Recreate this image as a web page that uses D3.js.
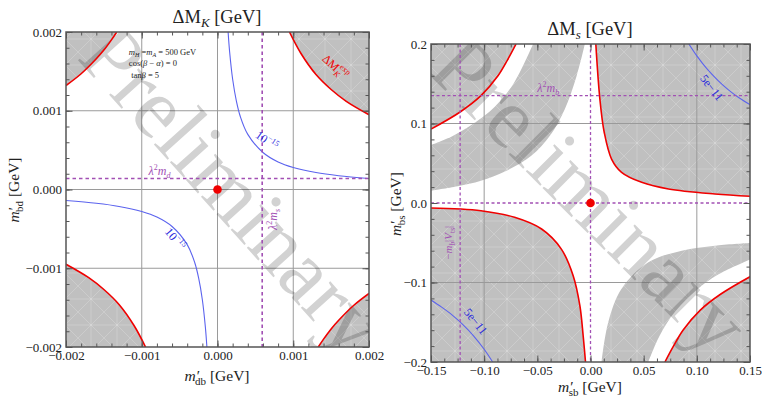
<!DOCTYPE html>
<html>
<head>
<meta charset="utf-8">
<script src="https://cdn.jsdelivr.net/npm/d3@7"></script>
<style>
  body { margin: 0; background: #fff; }
  text { font-family: "Liberation Serif", "Times New Roman", serif; }
</style>
</head>
<body>
<svg id="chart" width="762" height="397"></svg>
<script>
// ---- left panel (Delta M_K) ----
const kTicks = [-0.002, -0.001, 0, 0.001, 0.002]
const kTickLabels = ['−0.002', '−0.001', '0.000', '0.001', '0.002']
const kGrid = [-0.001, 0, 0.001]
const kRedTL = [[-0.002, 0.00132], [-0.0018, 0.00147], [-0.0016, 0.00166], [-0.0015, 0.00177], [-0.0014, 0.0019], [-0.00133, 0.002]]
const kRedTR = [[0.00095, 0.002], [0.0011, 0.00173], [0.0013, 0.00146], [0.0015, 0.00127], [0.0017, 0.00112], [0.002, 0.00095]]
const kRedBL = [[-0.002, -0.00095], [-0.0017, -0.00112], [-0.0015, -0.00127], [-0.0013, -0.00146], [-0.0011, -0.00173], [-0.00095, -0.002]]
const kRedBR = [[0.00133, -0.002], [0.0014, -0.0019], [0.0015, -0.00177], [0.0016, -0.00166], [0.0018, -0.00147], [0.002, -0.00132]]
const kBlueTR = [[0.00014, 0.002], [0.00016, 0.00175], [0.0002, 0.0014], [0.00025, 0.00112], [0.0003, 0.00093], [0.0004, 0.0007],
  [0.0006, 0.00047], [0.0008, 0.00035], [0.001, 0.00028], [0.0013, 0.000215], [0.0016, 0.000175], [0.002, 0.00014]]
const kBlueBL = [[-0.002, -0.00014], [-0.0016, -0.000175], [-0.0013, -0.000215], [-0.001, -0.00028], [-0.0008, -0.00035], [-0.0006, -0.00047],
  [-0.0004, -0.0007], [-0.0003, -0.00093], [-0.00025, -0.00112], [-0.0002, -0.0014], [-0.00016, -0.00175], [-0.00014, -0.002]]
const kLambdaMd = 0.00014  // horizontal line
const kLambdaMs = 0.00059  // vertical line

// ---- right panel (Delta M_s) ----
const sXTicks = [-0.15, -0.1, -0.05, 0, 0.05, 0.1, 0.15]
const sXTickLabels = ['−0.15', '−0.10', '−0.05', '0.00', '0.05', '0.10', '0.15']
const sYTicks = [-0.2, -0.1, 0, 0.1, 0.2]
const sYTickLabels = ['−0.2', '−0.1', '0.0', '0.1', '0.2']
const sGrid = [-0.1, 0.1]
const sRedTL = [[-0.15, 0.093], [-0.1226, 0.1145], [-0.103, 0.135], [-0.087, 0.16], [-0.078, 0.18], [-0.07, 0.2]]
const sRedBR = [[0.07, -0.2], [0.078, -0.18], [0.087, -0.16], [0.103, -0.135], [0.1226, -0.1145], [0.151, -0.092]]
const sRedTR = [[0.005, 0.2], [0.0088, 0.131], [0.0129, 0.089], [0.0198, 0.0553], [0.0292, 0.0386], [0.0481, 0.026],
  [0.0733, 0.0176], [0.117, 0.0113], [0.151, 0.0084]]
const sRedBL = [[-0.15, -0.0063], [-0.103, -0.0097], [-0.0714, -0.018], [-0.046, -0.0327], [-0.0274, -0.058], [-0.0163, -0.0914],
  [-0.01, -0.129], [-0.0069, -0.167], [-0.0047, -0.2]]
const sBandOuterTL = [[-0.15, 0.073], [-0.13, 0.084], [-0.11, 0.1], [-0.09, 0.121], [-0.072, 0.151], [-0.054, 0.2]]
const sBandInnerTL = [[-0.15, 0.0154], [-0.125, 0.021], [-0.103, 0.028], [-0.08, 0.04], [-0.0557, 0.0595], [-0.038, 0.085],
  [-0.0242, 0.118], [-0.013, 0.16], [-0.0053, 0.2]]
const sBandInnerBR = [[0.0104, -0.2], [0.0167, -0.15], [0.0292, -0.108], [0.0544, -0.0746], [0.0858, -0.06], [0.117, -0.0537], [0.151, -0.0503]]
const sBandOuterBR = [[0.0544, -0.2], [0.065, -0.167], [0.08, -0.136], [0.1, -0.109], [0.12, -0.09], [0.151, -0.0704]]
const sBlueTR = [[0.0925, 0.2], [0.1, 0.185], [0.11, 0.168], [0.12, 0.154], [0.13, 0.142], [0.14, 0.132], [0.151, 0.123]]
const sBlueBL = [[-0.15, -0.122], [-0.14, -0.131], [-0.13, -0.141], [-0.12, -0.153], [-0.11, -0.167], [-0.1, -0.184], [-0.092, -0.2]]
const sLambdaMb = 0.135     // horizontal line
const sMbVts = -0.1226      // vertical line

const RED = '#f00000'
const BLUE = '#5b63ee'
const PURPLE = '#a250b4'
const FRAME = '#555'
const SERIF = '"Liberation Serif", "Times New Roman", serif'

const svg = d3.select('#chart')

const defs = svg.append('defs')
const pat = defs.append('pattern')
  .attr('id', 'mesh')
  .attr('width', 26).attr('height', 26)
  .attr('patternUnits', 'userSpaceOnUse')
pat.append('rect').attr('width', 26).attr('height', 26).attr('fill', '#c0c0c0')
;[[0, 0, 26, 26], [26, 0, 0, 26], [13, 0, 13, 26], [0, 13, 26, 13]].forEach(l => {
  pat.append('line')
    .attr('x1', l[0]).attr('y1', l[1]).attr('x2', l[2]).attr('y2', l[3])
    .attr('stroke', '#fff').attr('stroke-opacity', 0.28).attr('stroke-width', 0.7)
})

function makePanel(cfg) {
  const x = d3.scaleLinear().domain(cfg.xDomain).range([cfg.left, cfg.right])
  const y = d3.scaleLinear().domain(cfg.yDomain).range([cfg.bottom, cfg.top])
  const line = d3.line().x(d => x(d[0])).y(d => y(d[1])).curve(d3.curveCatmullRom)
  const g = svg.append('g')

  defs.append('clipPath').attr('id', cfg.id + '-clip')
    .append('rect')
    .attr('x', cfg.left).attr('y', cfg.top)
    .attr('width', cfg.right - cfg.left).attr('height', cfg.bottom - cfg.top)

  const plot = g.append('g').attr('clip-path', `url(#${cfg.id}-clip)`)
  return { x, y, line, g, plot }
}

function cont(line, pts) {
  return line(pts).replace(/^M/, 'L')
}

function drawAxes(p, cfg) {
  const { x, y, g } = p
  const fmt = (vals, labels) => d => labels[vals.indexOf(d)]
  const w = cfg.right - cfg.left
  const h = cfg.bottom - cfg.top

  const xMinor = d3.range(cfg.xDomain[0], cfg.xDomain[1] + cfg.xMinor / 2, cfg.xMinor)
  const yMinor = d3.range(cfg.yDomain[0], cfg.yDomain[1] + cfg.yMinor / 2, cfg.yMinor)

  const sets = [
    [d3.axisBottom(x), `translate(0,${cfg.bottom})`, cfg.xTicks, xMinor, fmt(cfg.xTicks, cfg.xLabels)],
    [d3.axisTop(x), `translate(0,${cfg.top})`, cfg.xTicks, xMinor, null],
    [d3.axisLeft(y), `translate(${cfg.left},0)`, cfg.yTicks, yMinor, fmt(cfg.yTicks, cfg.yLabels)],
    [d3.axisRight(y), `translate(${cfg.right},0)`, cfg.yTicks, yMinor, null],
  ]
  sets.forEach(([ax, tr, major, minor, f]) => {
    const gm = g.append('g').attr('transform', tr)
      .call(ax.tickValues(minor).tickSize(-3.5).tickFormat(''))
    gm.select('.domain').remove()
    gm.selectAll('line').attr('stroke', FRAME)
    const gM = g.append('g').attr('transform', tr)
      .call(ax.tickValues(major).tickSize(-6.5).tickPadding(4).tickFormat(f || ''))
      .attr('font-family', SERIF)
      .attr('font-size', 13)
    gM.select('.domain').remove()
    gM.selectAll('line').attr('stroke', FRAME)
    gM.selectAll('text')
      .style('font-family', SERIF)
      .style('font-size', '13px')
      .attr('fill', '#222')
  })

  g.append('rect')
    .attr('x', cfg.left).attr('y', cfg.top).attr('width', w).attr('height', h)
    .attr('fill', 'none').attr('stroke', FRAME).attr('stroke-width', 1.5)
}

function gridLines(p, xs, ys, cfg) {
  p.plot.selectAll(null).data(xs).enter().append('line')
    .attr('x1', d => p.x(d)).attr('x2', d => p.x(d))
    .attr('y1', cfg.top).attr('y2', cfg.bottom)
    .attr('stroke', '#9a9a9a').attr('stroke-width', 1)
  p.plot.selectAll(null).data(ys).enter().append('line')
    .attr('y1', d => p.y(d)).attr('y2', d => p.y(d))
    .attr('x1', cfg.left).attr('x2', cfg.right)
    .attr('stroke', '#9a9a9a').attr('stroke-width', 1)
}

function watermark(p, cx, cy, angle) {
  p.plot.append('text')
    .attr('transform', `translate(${p.x(cx)},${p.y(cy)}) rotate(${angle})`)
    .attr('text-anchor', 'middle')
    .attr('dominant-baseline', 'central')
    .style('font-size', '86px')
    .style('mix-blend-mode', 'multiply')
    .attr('fill', '#d2d2d2')
    .text('Preliminary')
}

function curve(p, pts, color, width) {
  p.plot.append('path').attr('d', p.line(pts))
    .attr('fill', 'none').attr('stroke', color).attr('stroke-width', width)
}

function dashed(p, cfg, v, horizontal, width, dash) {
  const l = p.plot.append('line')
  if (horizontal) {
    l.attr('x1', cfg.left).attr('x2', cfg.right).attr('y1', p.y(v)).attr('y2', p.y(v))
  } else {
    l.attr('y1', cfg.top).attr('y2', cfg.bottom).attr('x1', p.x(v)).attr('x2', p.x(v))
  }
  l.attr('stroke', PURPLE).attr('stroke-width', width).attr('stroke-dasharray', dash)
}

function label(g, p, at, rot, color, size, build, anchor) {
  const t = g.append('text')
    .attr('transform', `translate(${p.x(at[0])},${p.y(at[1])}) rotate(${rot})`)
    .attr('text-anchor', anchor || 'middle')
    .attr('fill', color)
    .style('font-size', size + 'px')
  build(t)
  return t
}

// ================= LEFT PANEL =================
const cfgK = {
  id: 'k', left: 66, right: 369, top: 32, bottom: 347,
  xDomain: [-0.002, 0.002], yDomain: [-0.002, 0.002],
  xTicks: kTicks, xLabels: kTickLabels, yTicks: kTicks, yLabels: kTickLabels,
  xMinor: 0.0002, yMinor: 0.0002,
}
const pk = makePanel(cfgK)

const cornersK = [[kRedTL, [-0.0021, 0.0021]], [kRedTR, [0.0021, 0.0021]], [kRedBL, [-0.0021, -0.0021]], [kRedBR, [0.0021, -0.0021]]]
cornersK.forEach(([pts, c]) => {
  pk.plot.append('path')
    .attr('d', pk.line(pts) + `L${pk.x(c[0])},${pk.y(c[1])}Z`)
    .attr('fill', 'url(#mesh)')
})
gridLines(pk, kGrid, kGrid, cfgK)
watermark(pk, 0.00021, 0.0, 48)
;[kRedTL, kRedTR, kRedBL, kRedBR].forEach(c => curve(pk, c, RED, 1.6))
;[kBlueTR, kBlueBL].forEach(c => curve(pk, c, BLUE, 1.1))
dashed(pk, cfgK, kLambdaMd, true, 1.6, '3.5,3')
dashed(pk, cfgK, kLambdaMs, false, 1.6, '3.5,3')
pk.plot.append('circle').attr('cx', pk.x(0)).attr('cy', pk.y(0)).attr('r', 4.3).attr('fill', RED)

drawAxes(pk, cfgK)

// annotations left
label(pk.g, pk, [-0.00117, 0.00171], 0, '#222', 8.5, t => {
  t.append('tspan').style('font-style', 'italic').text('m')
  t.append('tspan').attr('dy', 2).style('font-size', '6px').style('font-style', 'italic').text('H')
  t.append('tspan').attr('dy', -2).text(' =')
  t.append('tspan').style('font-style', 'italic').text('m')
  t.append('tspan').attr('dy', 2).style('font-size', '6px').style('font-style', 'italic').text('A')
  t.append('tspan').attr('dy', -2).text(' = 500 GeV')
}, 'start')
label(pk.g, pk, [-0.00117, 0.00157], 0, '#222', 8.5, t => {
  t.append('tspan').text('cos(')
  t.append('tspan').style('font-style', 'italic').text('β')
  t.append('tspan').text(' − ')
  t.append('tspan').style('font-style', 'italic').text('α')
  t.append('tspan').text(') = 0')
}, 'start')
label(pk.g, pk, [-0.00114, 0.00142], 0, '#222', 8.5, t => {
  t.append('tspan').text('tan')
  t.append('tspan').style('font-style', 'italic').text('β')
  t.append('tspan').text(' = 5')
}, 'start')

label(pk.g, pk, [-0.00091, 0.00019], 0, PURPLE, 12, t => {
  t.append('tspan').style('font-style', 'italic').text('λ')
  t.append('tspan').attr('dy', -5).style('font-size', '8px').text('2')
  t.append('tspan').attr('dy', 5).style('font-style', 'italic').text('m')
  t.append('tspan').attr('dy', 3).style('font-size', '8px').style('font-style', 'italic').text('d')
}, 'start')
label(pk.g, pk, [0.00078, -0.00038], -90, PURPLE, 12, t => {
  t.append('tspan').style('font-style', 'italic').text('λ')
  t.append('tspan').attr('dy', -5).style('font-size', '8px').text('2')
  t.append('tspan').attr('dy', 5).style('font-style', 'italic').text('m')
  t.append('tspan').attr('dy', 3).style('font-size', '8px').style('font-style', 'italic').text('s')
})
const tenLabel = t => {
  t.append('tspan').text('10')
  t.append('tspan').attr('dy', -5).style('font-size', '8px').text('−15')
}
label(pk.g, pk, [0.00062, 0.00058], 35, '#2b2bdc', 12, tenLabel)
label(pk.g, pk, [-0.0006, -0.00066], 50, '#2b2bdc', 12, tenLabel)
label(pk.g, pk, [0.00152, 0.00152], 42, RED, 12, t => {
  t.append('tspan').text('ΔM')
  t.append('tspan').attr('dy', 3).style('font-size', '8px').style('font-style', 'italic').text('K')
  t.append('tspan').attr('dx', -5).attr('dy', -9).style('font-size', '8px').text('exp')
})

// titles & axis labels left
svg.append('text').attr('x', 217).attr('y', 23).attr('text-anchor', 'middle').style('font-size', '18.5px').attr('fill', '#222')
  .call(t => {
    t.append('tspan').text('ΔM')
    t.append('tspan').attr('dy', 4).style('font-size', '13px').style('font-style', 'italic').text('K')
    t.append('tspan').attr('dy', -4).text(' [GeV]')
  })
svg.append('text').attr('x', 217).attr('y', 381).attr('text-anchor', 'middle').style('font-size', '15.5px').attr('fill', '#222')
  .call(t => {
    t.append('tspan').style('font-style', 'italic').text('m′')
    t.append('tspan').attr('dx', -4).attr('dy', 4).style('font-size', '11px').text('db')
    t.append('tspan').attr('dy', -4).text(' [GeV]')
  })
svg.append('text').attr('transform', 'translate(19,190) rotate(-90)').attr('text-anchor', 'middle').style('font-size', '15.5px').attr('fill', '#222')
  .call(t => {
    t.append('tspan').style('font-style', 'italic').text('m′')
    t.append('tspan').attr('dx', -4).attr('dy', 4).style('font-size', '11px').text('bd')
    t.append('tspan').attr('dy', -4).text(' [GeV]')
  })

// ================= RIGHT PANEL =================
const cfgS = {
  id: 's', left: 431, right: 750, top: 44, bottom: 362,
  xDomain: [-0.15, 0.15], yDomain: [-0.2, 0.2],
  xTicks: sXTicks, xLabels: sXTickLabels, yTicks: sYTicks, yLabels: sYTickLabels,
  xMinor: 0.0125, yMinor: 0.02,
}
const ps = makePanel(cfgS)
const sx = ps.x, sy = ps.y

ps.plot.append('rect')
  .attr('x', cfgS.left).attr('y', cfgS.top)
  .attr('width', cfgS.right - cfgS.left).attr('height', cfgS.bottom - cfgS.top)
  .attr('fill', 'url(#mesh)')

// white band top-left
ps.plot.append('path')
  .attr('d', ps.line(sRedTL) + cont(ps.line, sBandOuterTL.slice().reverse()) + 'Z')
  .attr('fill', '#fff')
// white band bottom-right
ps.plot.append('path')
  .attr('d', ps.line(sBandOuterBR) + cont(ps.line, sRedBR.slice().reverse()) + 'Z')
  .attr('fill', '#fff')
// central white region
ps.plot.append('path')
  .attr('d', ps.line(sBandInnerTL) + cont(ps.line, sRedTR) +
    cont(ps.line, sBandInnerBR.slice().reverse()) + cont(ps.line, sRedBL.slice().reverse()) + 'Z')
  .attr('fill', '#fff')

gridLines(ps, sGrid, sGrid, cfgS)
watermark(ps, 0.0, 0.01, 45)
;[sRedTL, sRedBR, sRedTR, sRedBL].forEach(c => curve(ps, c, RED, 1.6))
;[sBlueTR, sBlueBL].forEach(c => curve(ps, c, BLUE, 1.1))
dashed(ps, cfgS, sLambdaMb, true, 1.3, '3,2.5')
dashed(ps, cfgS, 0, true, 1.3, '3,2.5')
dashed(ps, cfgS, sMbVts, false, 1.3, '3,2.5')
dashed(ps, cfgS, 0, false, 1.3, '3,2.5')
ps.plot.append('circle').attr('cx', sx(0)).attr('cy', sy(0)).attr('r', 4.3).attr('fill', RED)

drawAxes(ps, cfgS)

label(ps.g, ps, [-0.05, 0.139], 0, PURPLE, 12, t => {
  t.append('tspan').style('font-style', 'italic').text('λ')
  t.append('tspan').attr('dy', -5).style('font-size', '8px').text('2')
  t.append('tspan').attr('dy', 5).style('font-style', 'italic').text('m')
  t.append('tspan').attr('dy', 3).style('font-size', '8px').style('font-style', 'italic').text('b')
}, 'start')
label(ps.g, ps, [-0.1305, -0.05], -90, PURPLE, 11, t => {
  t.append('tspan').text('−')
  t.append('tspan').style('font-style', 'italic').text('m')
  t.append('tspan').attr('dy', 3).style('font-size', '7.5px').style('font-style', 'italic').text('b')
  t.append('tspan').attr('dy', -3).text('|')
  t.append('tspan').style('font-style', 'italic').text('V')
  t.append('tspan').attr('dy', 3).style('font-size', '7.5px').text('ts')
  t.append('tspan').attr('dy', -3).text('|')
})
const fiveLabel = t => t.text('5e−11')
label(ps.g, ps, [0.111, 0.142], 52, '#2b2bdc', 12, fiveLabel)
label(ps.g, ps, [-0.111, -0.152], 52, '#2b2bdc', 12, fiveLabel)

svg.append('text').attr('x', 590).attr('y', 35).attr('text-anchor', 'middle').style('font-size', '18.5px').attr('fill', '#222')
  .call(t => {
    t.append('tspan').text('ΔM')
    t.append('tspan').attr('dy', 4).style('font-size', '13px').style('font-style', 'italic').text('s')
    t.append('tspan').attr('dy', -4).text(' [GeV]')
  })
svg.append('text').attr('x', 590).attr('y', 392).attr('text-anchor', 'middle').style('font-size', '15.5px').attr('fill', '#222')
  .call(t => {
    t.append('tspan').style('font-style', 'italic').text('m′')
    t.append('tspan').attr('dx', -4).attr('dy', 4).style('font-size', '11px').text('sb')
    t.append('tspan').attr('dy', -4).text(' [GeV]')
  })
svg.append('text').attr('transform', 'translate(401,204) rotate(-90)').attr('text-anchor', 'middle').style('font-size', '15.5px').attr('fill', '#222')
  .call(t => {
    t.append('tspan').style('font-style', 'italic').text('m′')
    t.append('tspan').attr('dx', -4).attr('dy', 4).style('font-size', '11px').text('bs')
    t.append('tspan').attr('dy', -4).text(' [GeV]')
  })
</script>
</body>
</html>
